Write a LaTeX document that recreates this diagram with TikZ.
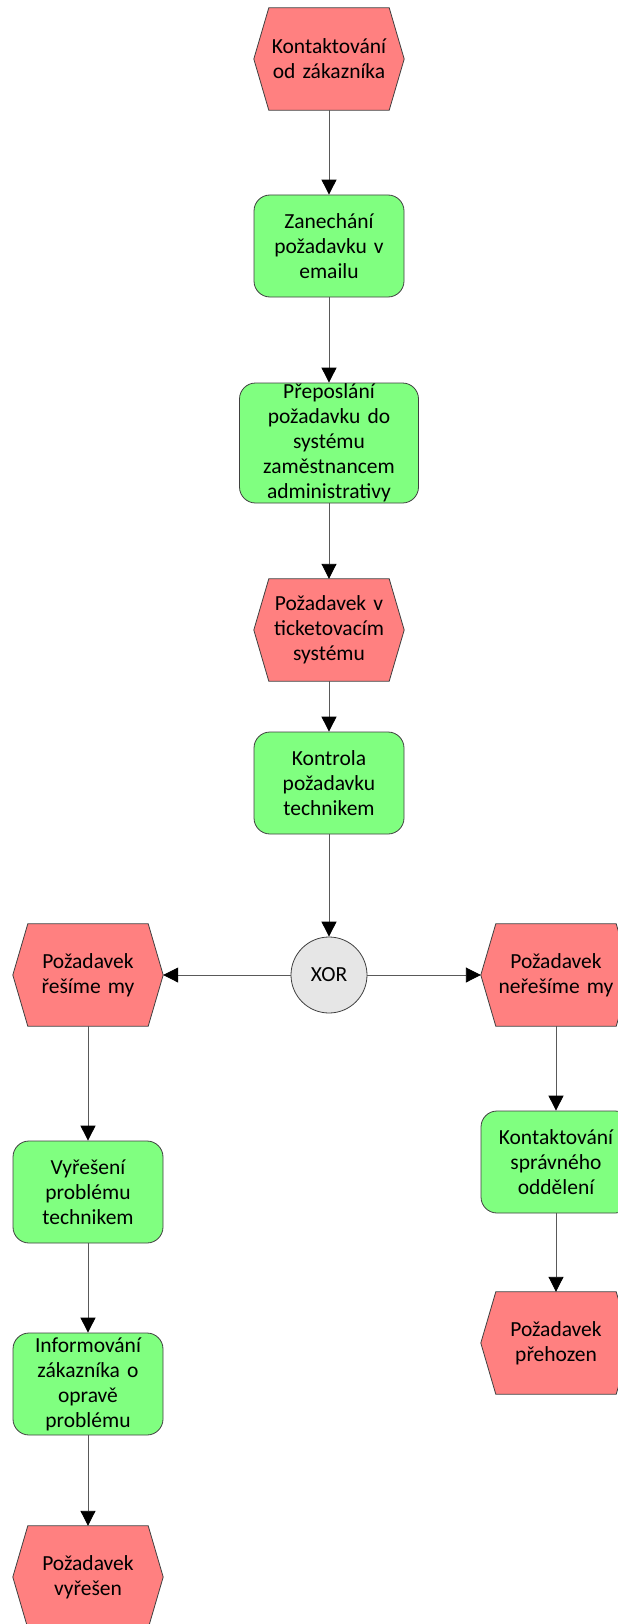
\documentclass[tikz,border=0pt]{standalone}
\usepackage{fontspec}
\setmainfont{Carlito}
\usetikzlibrary{arrows.meta,backgrounds}
\definecolor{evred}{HTML}{FF8080}
\definecolor{fngreen}{HTML}{80FF80}
\definecolor{xorgrey}{HTML}{E6E6E6}
\definecolor{edgegrey}{HTML}{404040}
\begin{document}
\begin{tikzpicture}[x=1pt,y=-1pt,
  txt/.style={align=center, text width=148, inner sep=0, font=\fontsize{21.5}{25}\selectfont},
  evt/.style={txt, rectangle, minimum width=150, minimum height=102},
  evshape/.style={fill=evred, draw=edgegrey, line width=0.8},
  fn/.style={txt, rectangle, rounded corners=16, draw=edgegrey, line width=0.8, fill=fngreen, minimum width=150, minimum height=102},
  gate/.style={circle, draw=edgegrey, line width=0.8, fill=xorgrey, minimum size=76, inner sep=0, font=\fontsize{21.5}{25}\selectfont},
  arr/.style={draw=black!65, line width=0.9, -{Triangle[width=15,length=15,color=black]}}
]
\useasboundingbox (0,0) rectangle (618,1624);
\clip (0,0) rectangle (618,1624);

% main column
\node[evt] (e1) at (329,59) {Kontaktování\\od zákazníka};
\node[fn] (f1) at (329,246) {Zanechání\\požadavku v\\emailu};
\node[fn, minimum width=179, minimum height=120, text width=177] (f2) at (329,443) {Přeposlání\\požadavku do\\systému\\zaměstnancem\\administrativy};
\node[evt] (e2) at (329,630) {Požadavek v\\ticketovacím\\systému};
\node[fn] (f3) at (329,783) {Kontrola\\požadavku\\technikem};
\node[gate] (x) at (329,975) {XOR};

% left column
\node[evt] (eL) at (88,975) {Požadavek\\řešíme my};
\node[fn] (f4) at (88,1192) {Vyřešení\\problému\\technikem};
\node[fn] (f5) at (88,1384) {Informování\\zákazníka o\\opravě\\problému};
\node[evt] (eL2) at (88,1577) {Požadavek\\vyřešen};

% right column
\node[evt] (eR) at (556,975) {Požadavek\\neřešíme my};
\node[fn] (f6) at (556,1162) {Kontaktování\\správného\\oddělení};
\node[evt] (eR2) at (556,1343) {Požadavek\\přehozen};

\begin{scope}[on background layer]
\fill[white] (0,0) rectangle (618,1624);
\foreach \n in {e1,e2,eL,eL2,eR,eR2}{
  \draw[evshape] (\n.west) -- ([xshift=15]\n.north west) -- ([xshift=-15]\n.north east)
    -- (\n.east) -- ([xshift=-15]\n.south east) -- ([xshift=15]\n.south west) -- cycle;
}
\end{scope}

\draw[arr] (e1) -- (f1);
\draw[arr] (f1) -- (f2);
\draw[arr] (f2) -- (e2);
\draw[arr] (e2) -- (f3);
\draw[arr] (f3) -- (x);
\draw[arr] (x.west) -- (eL.east);
\draw[arr] (x.east) -- (eR.west);
\draw[arr] (eL) -- (f4);
\draw[arr] (f4) -- (f5);
\draw[arr] (f5) -- (eL2);
\draw[arr] (eR) -- (f6);
\draw[arr] (f6) -- (eR2);
\end{tikzpicture}
\end{document}
